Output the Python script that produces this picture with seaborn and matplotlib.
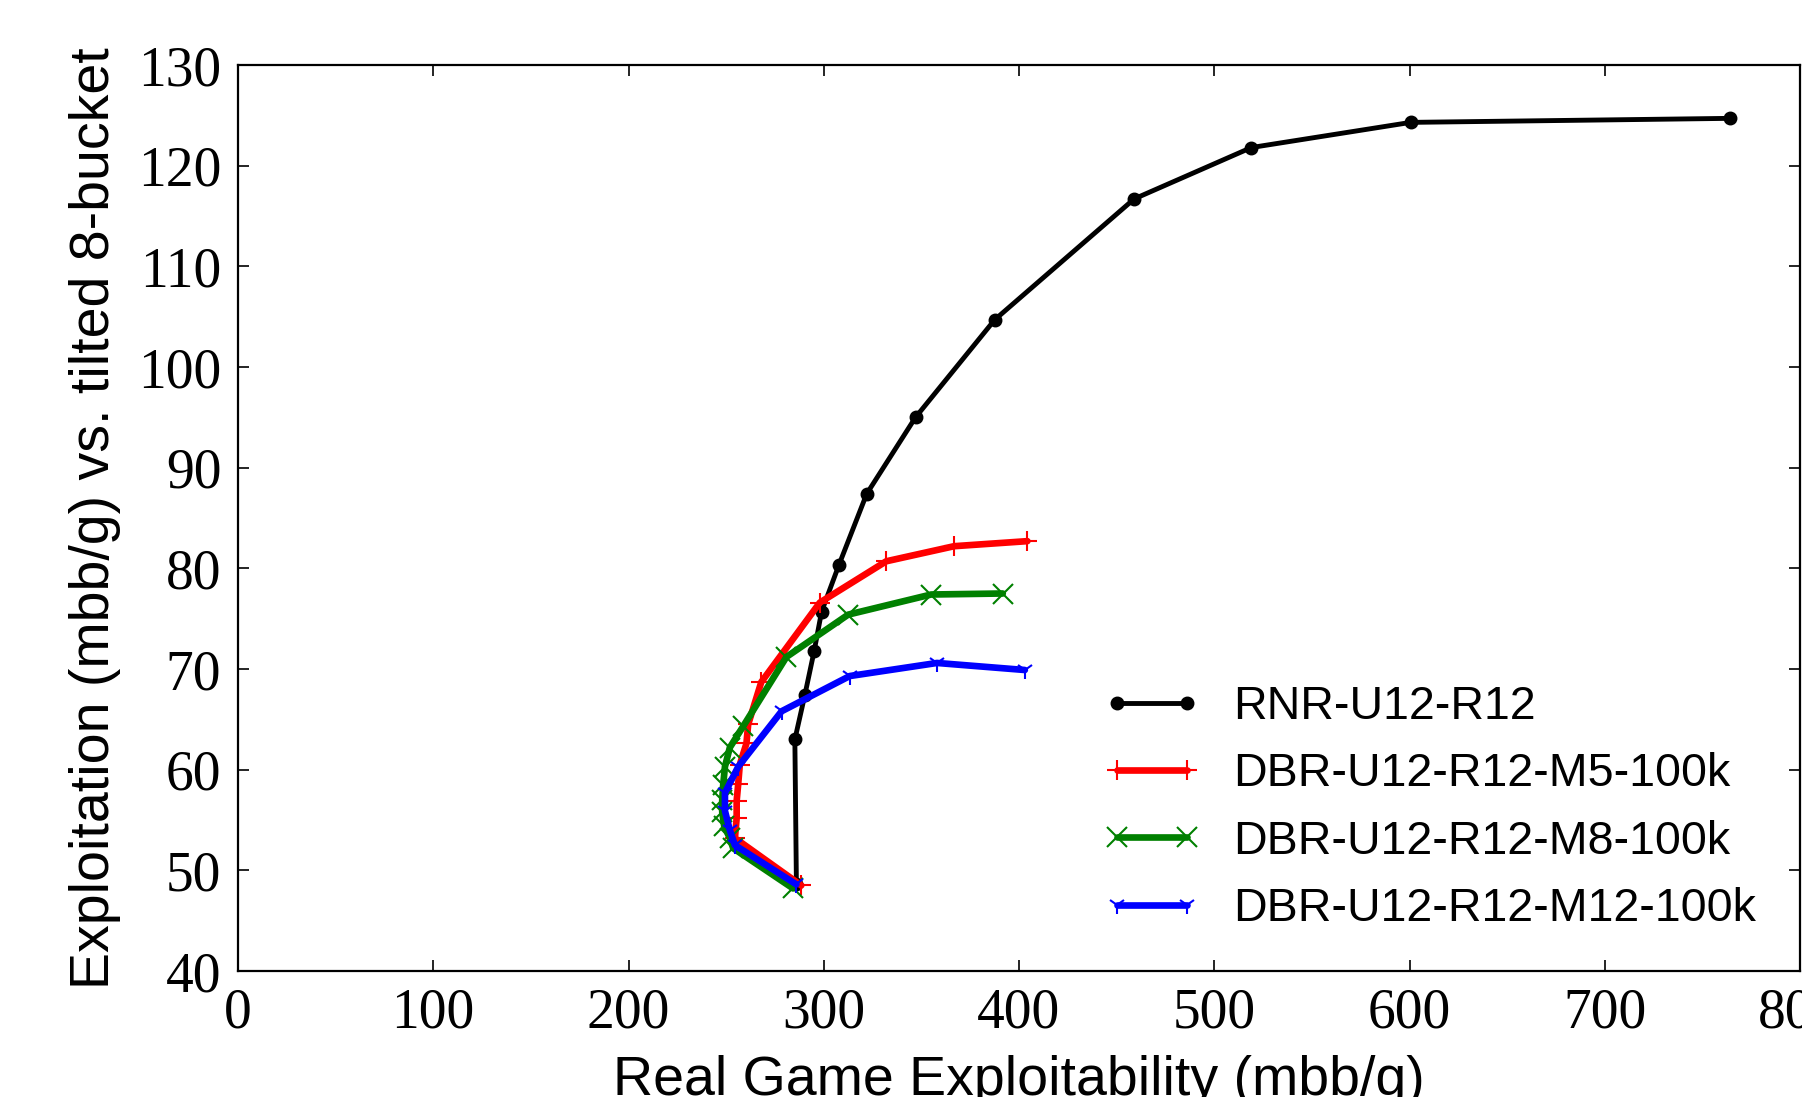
import matplotlib
matplotlib.use("Agg")
import matplotlib.pyplot as plt
import seaborn as sns
import pandas as pd

### Dados
rnr_x = [286.0, 285.2, 290.3, 295.1, 298.9, 307.7, 322.0, 347.0, 387.6, 459.0, 519.0, 600.6, 764.0]
rnr_y = [48.6, 63.0, 67.4, 71.8, 75.7, 80.3, 87.4, 95.0, 104.7, 116.7, 121.8, 124.3, 124.7]

m5_x = [288.5, 254.5, 255.4, 255.4, 256.2, 257.0, 260.4, 261.3, 268.0, 298.0, 332.0, 366.8, 404.3]
m5_y = [48.5, 53.2, 55.2, 56.9, 58.6, 60.5, 62.6, 64.5, 68.7, 76.6, 80.7, 82.2, 82.7]

m8_x = [284.3, 253.6, 251.9, 249.0, 248.0, 248.0, 248.5, 249.4, 251.9, 258.7, 280.9, 312.5, 355.0, 391.7]
m8_y = [48.2, 52.2, 53.2, 54.4, 55.8, 57.0, 58.5, 60.3, 62.2, 64.3, 71.2, 75.4, 77.4, 77.5]

m12_x = [286.0, 254.5, 251.9, 249.4, 249.4, 256.2, 278.4, 313.3, 358.0, 403.0]
m12_y = [48.6, 52.5, 54.0, 55.9, 57.7, 60.3, 65.8, 69.3, 70.6, 69.9]

rotulos = ["RNR-U12-R12", "DBR-U12-R12-M5-100k", "DBR-U12-R12-M8-100k", "DBR-U12-R12-M12-100k"]
cores = ["black", "red", "green", "blue"]
marcadores = ["o", "+", "x", "1"]

xticks = [0, 100, 200, 300, 400, 500, 600, 700, 800]
yticks = [40, 50, 60, 70, 80, 90, 100, 110, 120, 130]

series = [(rnr_x, rnr_y), (m5_x, m5_y), (m8_x, m8_y), (m12_x, m12_y)]

### Estilo
sns.set_style("ticks", {"text.color": "black", "axes.labelcolor": "black",
                        "xtick.color": "black", "ytick.color": "black",
                        "axes.edgecolor": "black"})
fonte_sans = ["Liberation Sans Narrow", "Liberation Sans", "DejaVu Sans"]
fonte_serif = ["Liberation Serif", "DejaVu Serif"]

fig = plt.figure(figsize = (18.02, 10.97), dpi = 100)
ax = fig.add_axes([238/1802, 1 - 971/1097, (1800 - 238)/1802, (971 - 65)/1097])

for (xs, ys), rot, cor, mk in zip(series, rotulos, cores, marcadores):
    df = pd.DataFrame({"x": xs, "y": ys})
    lw = 3.5 if cor == "black" else 4.8
    ms = {"o": 8.5, "+": 14, "x": 14, "1": 13}[mk]
    sns.lineplot(data = df, x = "x", y = "y", sort = False, estimator = None, ax = ax,
                 color = cor, linewidth = lw, marker = mk, markersize = ms,
                 markeredgewidth = 1.5, markeredgecolor = cor, label = rot)

ax.set_xlim(0, 800)
ax.set_ylim(40, 130)
ax.set_xticks(xticks)
ax.set_yticks(yticks)
ax.tick_params(direction = "in", top = True, right = True, length = 8, width = 1.2, pad = 12,
               colors = "black")
for lab in ax.get_xticklabels() + ax.get_yticklabels():
    lab.set_family(fonte_serif)
    lab.set_fontsize(40)
    lab.set_color("black")
for s in ax.spines.values():
    s.set_linewidth(1.6)
    s.set_color("black")

ax.set_xlabel("Real Game Exploitability (mbb/g)", family = fonte_sans, fontsize = 40, color = "black")
ax.set_ylabel("Exploitation (mbb/g) vs. tilted 8-bucket", family = fonte_sans, fontsize = 40, color = "black")
ax.xaxis.set_label_coords(0.5, -0.093)
ax.yaxis.set_label_coords(-0.075, 0.5)

leg = ax.legend(loc = "center left", bbox_to_anchor = (0.527, 0.180), frameon = False,
                numpoints = 2, handlelength = 2.1, prop = {"family": fonte_sans, "size": 33.5},
                labelspacing = 0.5, borderpad = 0.4, handletextpad = 0.7)
for t in leg.get_texts():
    t.set_color("black")

fig.savefig("out.png", dpi = 100)
